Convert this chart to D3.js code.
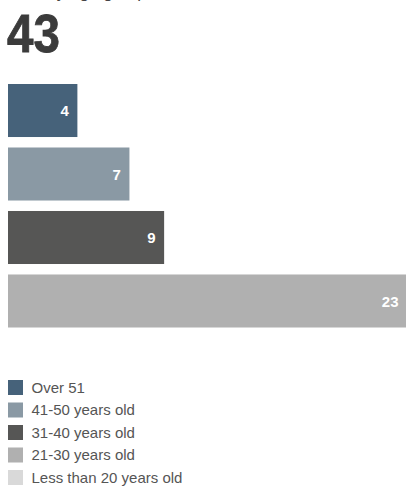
<!DOCTYPE html>
<html>
<head>
<meta charset="utf-8">
<script src="https://cdn.jsdelivr.net/npm/d3@7/dist/d3.min.js"></script>
<style>
  html, body { margin: 0; padding: 0; background: #fff; }
  svg { display: block; }
</style>
</head>
<body>
<script>
// Headcount by age band
const categories = ["Over 51", "41-50 years old", "31-40 years old", "21-30 years old", "Less than 20 years old"];
const counts = [4, 7, 9, 23, 0];
const colors = ["#46627a", "#8a99a4", "#565655", "#b0b0b0", "#d9d9d9"];
const titleText = "Staff by age group";

const W = 406, H = 486;
const svg = d3.select("body").append("svg").attr("width", W).attr("height", H);

const data = categories.map((c, i) => ({ cat: c, value: counts[i], color: colors[i] }));
const total = d3.sum(counts);

// Title sits above the visible area; only its descenders peek in
svg.append("text")
  .attr("x", 8).attr("y", -2.5)
  .attr("font-family", "Liberation Sans, Arial, sans-serif")
  .attr("font-size", 17)
  .attr("fill", "#444")
  .text(titleText);

// Big total, condensed
svg.append("text")
  .attr("transform", "translate(7,52) scale(0.88,1)")
  .attr("font-family", "Liberation Sans, Arial, sans-serif")
  .attr("font-weight", "bold")
  .attr("font-size", 54)
  .attr("fill", "#3b3b3b")
  .attr("stroke", "#3b3b3b")
  .attr("stroke-width", 0.8)
  .text(total);

const x = d3.scaleLinear().domain([0, 23]).range([8, 407]);
const y = d3.scaleBand().domain(categories).range([84, 391]).paddingInner(0.165).paddingOuter(0);

const bars = svg.append("g").selectAll("g").data(data.filter(d => d.value > 0)).join("g");

bars.append("rect")
  .attr("x", x(0))
  .attr("y", d => y(d.cat))
  .attr("width", d => x(d.value) - x(0))
  .attr("height", y.bandwidth())
  .attr("fill", d => d.color);

bars.append("text")
  .attr("x", d => x(d.value) - 8.5)
  .attr("y", d => y(d.cat) + y.bandwidth() / 2)
  .attr("dy", "0.37em")
  .attr("text-anchor", "end")
  .attr("font-family", "Liberation Sans, Arial, sans-serif")
  .attr("font-weight", "bold")
  .attr("font-size", 15)
  .attr("fill", "#fff")
  .text(d => d.value);

// Legend
const legend = svg.append("g").attr("transform", "translate(8,380)");
const item = legend.selectAll("g").data(data).join("g")
  .attr("transform", (d, i) => `translate(0,${i * 22.5})`);
item.append("rect").attr("width", 15).attr("height", 15).attr("fill", d => d.color);
item.append("text")
  .attr("x", 23.5).attr("y", 7.5).attr("dy", "0.36em")
  .attr("font-family", "Liberation Sans, Arial, sans-serif")
  .attr("font-size", 15)
  .attr("fill", "#555")
  .text(d => d.cat);
</script>
</body>
</html>
